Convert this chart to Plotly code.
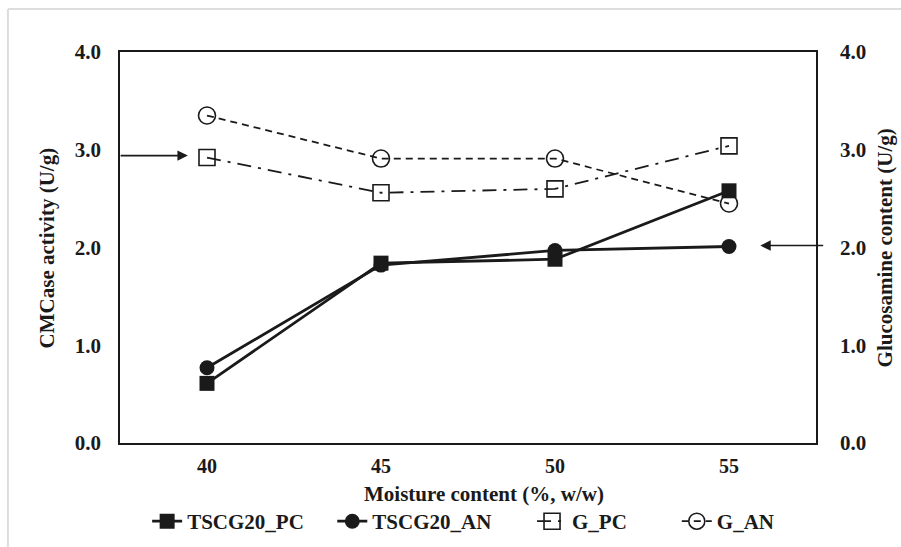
import plotly.graph_objects as go

moisture = ["40", "45", "50", "55"]
tscg20_pc = [0.61, 1.84, 1.88, 2.58]
tscg20_an = [0.77, 1.82, 1.97, 2.01]
g_pc = [2.92, 2.56, 2.60, 3.04]
g_an = [3.35, 2.91, 2.91, 2.45]
yticks = [0, 1, 2, 3, 4]
yticklabels = ["0.0", "1.0", "2.0", "3.0", "4.0"]

FONT = "Liberation Serif"
BLACK = "#1a1a1a"

fig = go.Figure()
fig.add_trace(go.Scatter(x=moisture, y=tscg20_pc, name="TSCG20_PC", mode="lines+markers",
                         line=dict(color=BLACK, width=2.8), legend="legend",
                         marker=dict(symbol="square", size=15, color=BLACK)))
fig.add_trace(go.Scatter(x=moisture, y=tscg20_an, name="TSCG20_AN", mode="lines+markers",
                         line=dict(color=BLACK, width=2.8), legend="legend2",
                         marker=dict(symbol="circle", size=15, color=BLACK)))
fig.add_trace(go.Scatter(x=moisture, y=g_pc, name="G_PC", mode="lines+markers", yaxis="y2",
                         line=dict(color=BLACK, width=1.8, dash="14px,7px,3px,7px"), legend="legend3",
                         marker=dict(symbol="square-open", size=16, color=BLACK, line=dict(width=1.6))))
fig.add_trace(go.Scatter(x=moisture, y=g_an, name="G_AN", mode="lines+markers", yaxis="y2",
                         line=dict(color=BLACK, width=1.8, dash="7px,5px"), legend="legend4",
                         marker=dict(symbol="circle-open", size=17, color=BLACK, line=dict(width=1.6))))

tickfont = dict(family=FONT, size=21, color=BLACK, weight="bold")
xtickfont = dict(family=FONT, size=20, color=BLACK, weight="bold")
titlefont = dict(family=FONT, size=21, color=BLACK, weight="bold")
legfont = dict(family=FONT, size=21, color=BLACK, weight="bold")

def leg(x):
    return dict(orientation="h", x=x, xanchor="left", yref="container", y=0.084, yanchor="top",
                font=legfont, bgcolor="rgba(0,0,0,0)")

fig.update_layout(
    width=901, height=547,
    margin=dict(l=120, r=85, t=52, b=104, autoexpand=False),
    paper_bgcolor="white", plot_bgcolor="white",
    font=dict(family=FONT, color=BLACK),
    showlegend=True,
    legend=leg(0.039), legend2=leg(0.305), legend3=leg(0.592), legend4=leg(0.800),
    xaxis=dict(type="category", range=[-0.5, 3.5], showgrid=False, automargin=False,
               showline=True, linecolor=BLACK, linewidth=2, mirror=True,
               ticks="outside", ticklen=4, tickcolor="rgba(0,0,0,0)", tickfont=xtickfont),
    yaxis=dict(range=[0, 4], tickvals=yticks, ticktext=yticklabels, automargin=False,
               showgrid=False, showline=True, linecolor=BLACK, linewidth=1.5,
               ticks="outside", ticklen=13, tickcolor="rgba(0,0,0,0)", tickfont=tickfont, zeroline=False),
    yaxis2=dict(range=[0, 4], tickvals=yticks, ticktext=yticklabels, automargin=False,
                overlaying="y", side="right", showgrid=False, showline=True,
                linecolor=BLACK, linewidth=1.5, ticks="outside", ticklen=18,
                tickcolor="rgba(0,0,0,0)", tickfont=tickfont, zeroline=False),
)

# axis titles
fig.add_annotation(text="Moisture content (%, w/w)", xref="paper", yref="paper", x=0.523, y=-0.131,
                   showarrow=False, font=titlefont, xanchor="center", yanchor="middle")
fig.add_annotation(text="CMCase activity (U/g)", xref="paper", yref="paper", x=-0.105, y=0.5,
                   textangle=-90, showarrow=False, font=titlefont, xanchor="center", yanchor="middle")
fig.add_annotation(text="Glucosamine content (U/g)", xref="paper", yref="paper", x=1.099, y=0.5,
                   textangle=-90, showarrow=False, font=titlefont, xanchor="center", yanchor="middle")

# arrows
fig.add_annotation(x=-0.11, y=2.94, ax=-0.505, ay=2.94, xref="x", yref="y", axref="x", ayref="y",
                   showarrow=True, arrowhead=2, arrowsize=1.3, arrowwidth=1.6, arrowcolor=BLACK, text="")
fig.add_annotation(x=3.18, y=2.02, ax=3.55, ay=2.02, xref="x", yref="y", axref="x", ayref="y",
                   showarrow=True, arrowhead=2, arrowsize=1.3, arrowwidth=1.6, arrowcolor=BLACK, text="")

# light outer border (top and left)
fig.add_shape(type="line", xref="paper", yref="paper", x0=-0.161, x1=1.2, y0=1.11, y1=1.11,
              line=dict(color="#dddddd", width=2))
fig.add_shape(type="line", xref="paper", yref="paper", x0=-0.161, x1=-0.161, y0=1.11, y1=-0.27,
              line=dict(color="#dddddd", width=2))

fig.write_html("out.html")
